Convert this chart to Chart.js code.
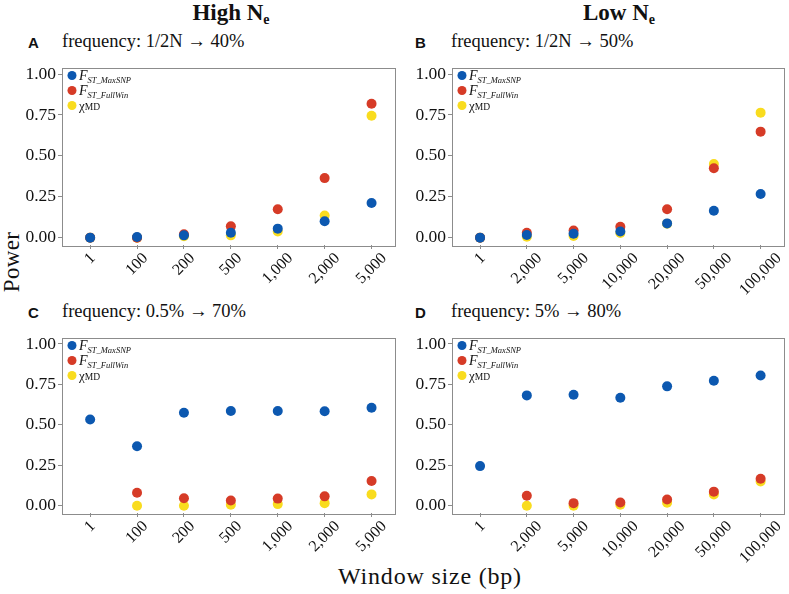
<!DOCTYPE html>
<html>
<head>
<meta charset="utf-8">
<script src="https://cdn.jsdelivr.net/npm/chart.js@4.4.1/dist/chart.umd.min.js"></script>
<style>
  body { margin: 0; background: #fff; width: 789px; height: 594px; position: relative; overflow: hidden; font-family: "Liberation Serif", serif; color: #111; }
  canvas { position: absolute; }
  .t { position: absolute; white-space: nowrap; }
  .head { font-weight: bold; font-size: 23px; transform: translateX(-50%); }
  .head sub { font-size: 14px; vertical-align: -4px; }
  .letter { font-family: "Liberation Sans", Arial, sans-serif; font-weight: bold; font-size: 15px; }
  .freq { font-size: 18.5px; }
  .axis { font-size: 23px; letter-spacing: 0.3px; }
  .xtitle { font-size: 24px; letter-spacing: 0.8px; transform: translateX(-50%); }
</style>
</head>
<body>
<div class="t head" style="left:231px; top:0px;">High N<sub>e</sub></div>
<div class="t head" style="left:619px; top:0px;">Low N<sub>e</sub></div>

<div class="t letter" style="left:28px; top:34px;">A</div>
<div class="t freq" style="left:62px; top:31px;">frequency: 1/2N → 40%</div>
<div class="t letter" style="left:415px; top:34px;">B</div>
<div class="t freq" style="left:451px; top:31px;">frequency: 1/2N → 50%</div>
<div class="t letter" style="left:28px; top:304px;">C</div>
<div class="t freq" style="left:62px; top:301px;">frequency: 0.5% → 70%</div>
<div class="t letter" style="left:415px; top:304px;">D</div>
<div class="t freq" style="left:451px; top:301px;">frequency: 5% → 80%</div>

<div class="t axis" style="left:12px; top:262px; transform:translate(-50%,-50%) rotate(-90deg);">Power</div>
<div class="t axis xtitle" style="left:430px; top:563px;">Window size (bp)</div>

<canvas id="chartA" width="400" height="250" style="left:0; top:55px;"></canvas>
<canvas id="chartB" width="389" height="250" style="left:400px; top:55px;"></canvas>
<canvas id="chartC" width="400" height="250" style="left:0; top:325px;"></canvas>
<canvas id="chartD" width="389" height="250" style="left:400px; top:325px;"></canvas>

<script>
const highWindows = ["1", "100", "200", "500", "1,000", "2,000", "5,000"];
const lowWindows = ["1", "2,000", "5,000", "10,000", "20,000", "50,000", "100,000"];
const yTicks = [0, 0.25, 0.5, 0.75, 1];
const seriesNames = [["F", "ST_MaxSNP"], ["F", "ST_FullWin"], ["χ", "MD"]];
const seriesColors = ["#0c58b0", "#d63b27", "#f9dc1e"];

// panel A: high Ne, 1/2N -> 40%
const maxSnpA = [0.0, 0.004, 0.014, 0.03, 0.055, 0.10, 0.212];
const fullWinA = [0.0, 0.0, 0.02, 0.069, 0.174, 0.364, 0.818];
const chiMdA = [0.0, 0.0, 0.008, 0.014, 0.038, 0.135, 0.745];

// panel B: low Ne, 1/2N -> 50%
const maxSnpB = [0.0, 0.016, 0.024, 0.038, 0.087, 0.164, 0.267];
const fullWinB = [0.0, 0.03, 0.044, 0.067, 0.174, 0.424, 0.648];
const chiMdB = [0.0, 0.006, 0.01, 0.028, 0.085, 0.45, 0.764];

// panel C: high Ne, 0.5% -> 70%
const maxSnpC = [0.533, 0.368, 0.575, 0.586, 0.586, 0.584, 0.606];
const fullWinC = [null, 0.08, 0.046, 0.032, 0.044, 0.058, 0.153];
const chiMdC = [null, 0.0, 0.0, 0.006, 0.01, 0.016, 0.07];

// panel D: low Ne, 5% -> 80%
const maxSnpD = [0.245, 0.682, 0.686, 0.668, 0.738, 0.773, 0.805];
const fullWinD = [null, 0.062, 0.016, 0.02, 0.038, 0.087, 0.167];
const chiMdD = [null, 0.0, 0.0, 0.006, 0.018, 0.07, 0.15];

const boxPlugin = {
  id: "box",
  afterDraw(chart) {
    const { ctx, chartArea: a } = chart;
    ctx.save();
    ctx.strokeStyle = "#8c8c8c";
    ctx.lineWidth = 1;
    ctx.strokeRect(Math.round(a.left) + 0.5, Math.round(a.top) + 0.5,
      Math.round(a.right - a.left), Math.round(a.bottom - a.top));

    // x tick labels, rotated 45deg and centred under the tick (like the original)
    const xs = chart.scales.x;
    const labels = chart.options.xLabels;
    ctx.fillStyle = "#111";
    ctx.font = "16px 'Liberation Serif'";
    ctx.textAlign = "center";
    ctx.textBaseline = "middle";
    labels.forEach((lab, i) => {
      const px = xs.getPixelForValue(i);
      const w = ctx.measureText(lab).width;
      const h = 11;
      const cy = a.bottom + 7 + (w + h) * 0.7071 / 2;
      ctx.save();
      ctx.translate(px, cy);
      ctx.rotate(-Math.PI / 4);
      ctx.fillText(lab, 0, 0);
      ctx.restore();
    });

    // legend inside the plot, top-left
    ctx.textAlign = "left";
    ctx.textBaseline = "alphabetic";
    const x = a.left + 10;
    chart.data.datasets.forEach((ds, i) => {
      const y = a.top + 8 + i * 15;
      ctx.beginPath();
      ctx.arc(x, y, 4.5, 0, Math.PI * 2);
      ctx.fillStyle = ds.backgroundColor;
      ctx.fill();
      ctx.fillStyle = "#111";
      const [main, sub] = seriesNames[i];
      let tx = x + 7;
      if (main === "F") {
        ctx.font = "italic 14px 'Liberation Serif'";
        ctx.fillText(main, tx, y + 4.5);
        tx += ctx.measureText(main).width;
        ctx.font = "italic 8.5px 'Liberation Serif'";
        ctx.fillText(sub, tx, y + 7);
      } else {
        ctx.font = "13px 'Liberation Serif'";
        ctx.fillText(main, tx, y + 4);
        tx += ctx.measureText(main).width;
        ctx.font = "9.5px 'Liberation Serif'";
        ctx.fillText(sub, tx, y + 4.5);
      }
    });
    ctx.restore();
  }
};

function makePanel(id, labels, maxSnp, fullWin, chiMd, yWidth, plotH) {
  const toPts = arr => arr.map((v, i) => ({ x: i, y: v }));
  const values = [maxSnp, fullWin, chiMd];
  new Chart(document.getElementById(id), {
    type: "scatter",
    data: {
      datasets: values.map((arr, i) => ({
        label: seriesNames[i].join(""),
        data: toPts(arr),
        backgroundColor: seriesColors[i],
        borderColor: seriesColors[i],
        pointRadius: 5,
        pointBorderWidth: 0
      }))
    },
    options: {
      xLabels: labels,
      responsive: false,
      animation: false,
      devicePixelRatio: 1,
      layout: { padding: { top: 6, right: 4, left: 0, bottom: 0 } },
      plugins: { legend: { display: false }, tooltip: { enabled: false } },
      scales: {
        x: {
          type: "linear",
          min: -0.6,
          max: 6.5,
          afterBuildTicks: s => { s.ticks = labels.map((_, i) => ({ value: i })); },
          afterFit: s => { s.height = 250 - 6 - plotH; },
          ticks: { display: false },
          grid: { drawOnChartArea: false, drawTicks: true, tickLength: 4, color: "#8c8c8c" },
          border: { display: false }
        },
        y: {
          min: -0.045,
          max: 1.04,
          afterBuildTicks: s => { s.ticks = yTicks.map(v => ({ value: v })); },
          afterFit: s => { s.width = yWidth; },
          ticks: {
            padding: 2,
            color: "#111",
            font: { family: "Liberation Serif", size: 17.5 },
            callback: v => v.toFixed(2)
          },
          grid: { drawOnChartArea: false, drawTicks: true, tickLength: 4, color: "#8c8c8c" },
          border: { display: false }
        }
      }
    },
    plugins: [boxPlugin]
  });
}

makePanel("chartA", highWindows, maxSnpA, fullWinA, chiMdA, 62, 184);
makePanel("chartB", lowWindows, maxSnpB, fullWinB, chiMdB, 52, 184);
makePanel("chartC", highWindows, maxSnpC, fullWinC, chiMdC, 62, 182);
makePanel("chartD", lowWindows, maxSnpD, fullWinD, chiMdD, 52, 182);
</script>
</body>
</html>
